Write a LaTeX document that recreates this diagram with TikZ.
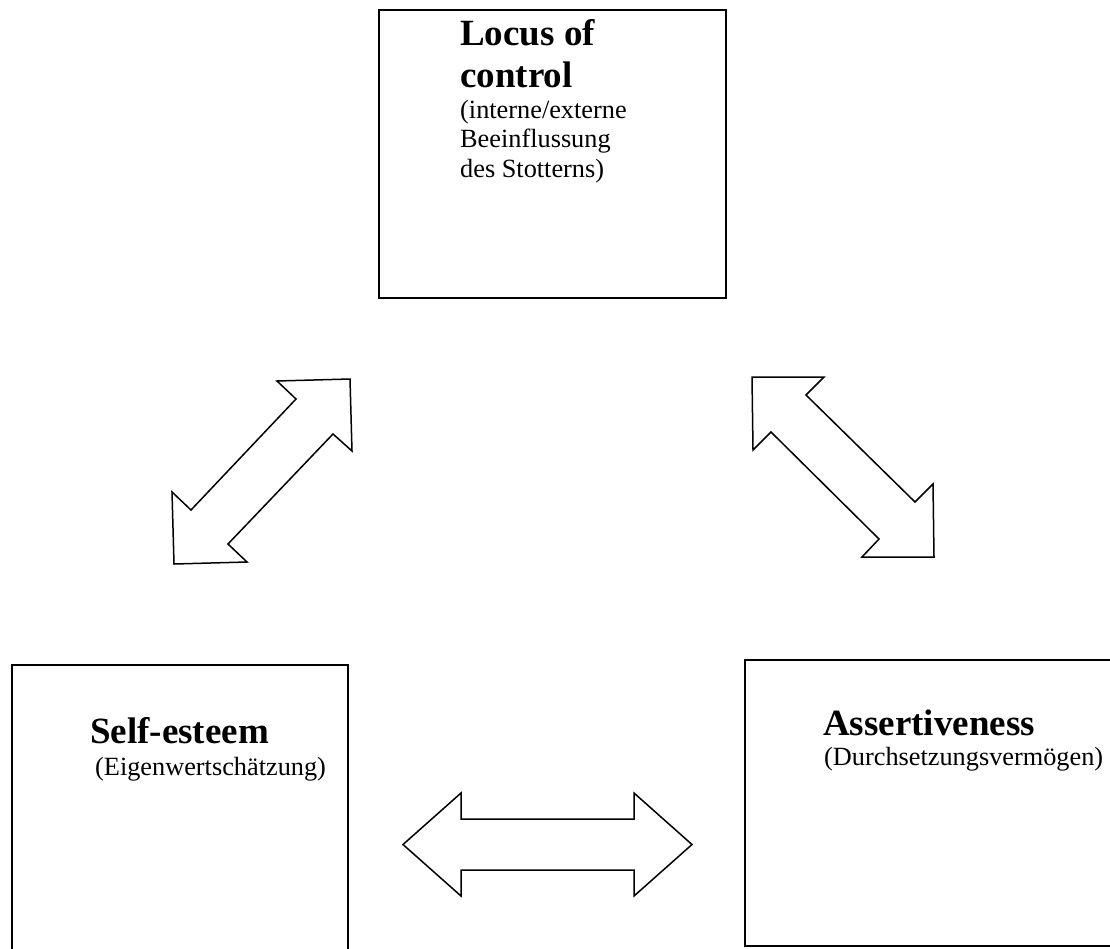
\documentclass[tikz,border=0pt]{standalone}
\usepackage{fontspec}
\setmainfont{Liberation Serif}
\begin{document}
\begin{tikzpicture}[x=1pt,y=-1pt,
  box/.style={draw=black,line width=2pt,rectangle,inner sep=0pt,anchor=north west},
  titletext/.style={anchor=base west,inner sep=0pt,font=\fontsize{37}{40}\selectfont\bfseries},
  subtext/.style={anchor=base west,inner sep=0pt,font=\fontsize{26.3}{29.5}\selectfont},
  blockarrow/.style={draw=black,line width=1.5pt,line join=miter,fill=white}]
\clip (0,0) rectangle (1110,948);
\fill[white] (0,0) rectangle (1110,948);
% boxes
\node[box,minimum width=347pt,minimum height=288pt] (loc) at (378,9) {};
\node[box,minimum width=336pt,minimum height=320pt] (self) at (11,664) {};
\node[box,minimum width=390pt,minimum height=286pt] (ass) at (744,659) {};
% texts
\node[titletext] (loc1) at (460,45) {Locus of};
\node[titletext] (loc2) at (460,87) {control};
\node[subtext] (loc3) at (460,118) {(interne/externe};
\node[subtext] (loc4) at (460,147.5) {Beeinflussung};
\node[subtext] (loc5) at (460,177) {des Stotterns)};
\node[titletext] (self1) at (90,743) {Self-esteem};
\node[subtext] (self2) at (95,775) {(Eigenwertschätzung)};
\node[titletext] (ass1) at (823,735) {Assertiveness};
\node[subtext] (ass2) at (824,765) {(Durchsetzungsvermögen)};
% block arrows
\draw[blockarrow] (350,379) -- (277,381) -- (296,399) -- (191,510) -- (172,492)
  -- (174,564) -- (247,562) -- (228,544) -- (333,434) -- (352,451) -- cycle;
\draw[blockarrow] (752,377) -- (824,377) -- (806,395) -- (915,502) -- (933,484)
  -- (934,557) -- (862,557) -- (879,539) -- (771,432) -- (753,450) -- cycle;
\draw[blockarrow] (403,844.5) -- (461,793) -- (461,819) -- (634,819) -- (634,793)
  -- (692,844.5) -- (634,896) -- (634,870) -- (461,870) -- (461,896) -- cycle;
\end{tikzpicture}
\end{document}
